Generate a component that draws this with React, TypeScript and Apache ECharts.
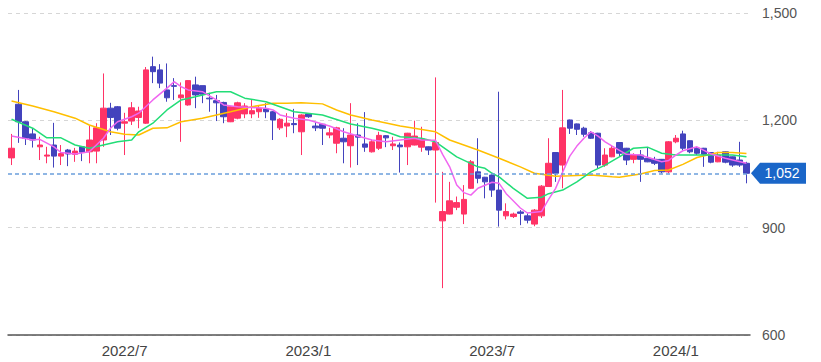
import React, { useEffect, useRef } from "react";
import * as echarts from "echarts";

// Weekly candles (Monday of each week)
const dates = [
  "2022/03/14","2022/03/21","2022/03/28","2022/04/04","2022/04/11","2022/04/18","2022/04/25","2022/05/02","2022/05/09","2022/05/16",
  "2022/05/23","2022/05/30","2022/06/06","2022/06/13","2022/06/20","2022/06/27","2022/07/04","2022/07/11","2022/07/18","2022/07/25",
  "2022/08/01","2022/08/08","2022/08/15","2022/08/22","2022/08/29","2022/09/05","2022/09/12","2022/09/19","2022/09/26","2022/10/03",
  "2022/10/10","2022/10/17","2022/10/24","2022/10/31","2022/11/07","2022/11/14","2022/11/21","2022/11/28","2022/12/05","2022/12/12",
  "2022/12/19","2022/12/26","2023/01/02","2023/01/09","2023/01/16","2023/01/23","2023/01/30","2023/02/06","2023/02/13","2023/02/20",
  "2023/02/27","2023/03/06","2023/03/13","2023/03/20","2023/03/27","2023/04/03","2023/04/10","2023/04/17","2023/04/24","2023/05/01",
  "2023/05/08","2023/05/15","2023/05/22","2023/05/29","2023/06/05","2023/06/12","2023/06/19","2023/06/26","2023/07/03","2023/07/10",
  "2023/07/17","2023/07/24","2023/07/31","2023/08/07","2023/08/14","2023/08/21","2023/08/28","2023/09/04","2023/09/11","2023/09/18",
  "2023/09/25","2023/10/02","2023/10/09","2023/10/16","2023/10/23","2023/10/30","2023/11/06","2023/11/13","2023/11/20","2023/11/27",
  "2023/12/04","2023/12/11","2023/12/18","2023/12/25","2024/01/01","2024/01/08","2024/01/15","2024/01/22","2024/01/29","2024/02/05",
  "2024/02/12","2024/02/19","2024/02/26","2024/03/04","2024/03/11",
];

const opens = [
  1095,1245,1196,1162,1126,1100,1131,1100,1117,1105, 1126,1112,1114,1145,1234,1238,1192,1198,1208,1192,
  1350,1341,1285,1297,1263,1243,1299,1297,1262,1255, 1250,1196,1206,1218,1218,1224,1232,1224,1179,1184,
  1191,1168,1218,1184,1189,1159,1136,1150,1129,1159, 1134,1112,1122,1157,1129,1131,1126,1131,1125,1126,
  1117,919,938,957,938,1010,1056,1041,1047,1005, 933,931,944,933,910,933,1015,1110,1075,1201,
  1190,1178,1165,1164,1075,1098,1138,1122,1091,1103, 1094,1091,1091,1056,1140,1162,1143,1122,1122,1110,
  1084,1112,1098,1089,1080,
];
const closes = [
  1122,1196,1150,1145,1131,1103,1100,1107,1106,1114, 1111,1145,1179,1234,1208,1178,1196,1235,1226,1341,
  1336,1304,1263,1295,1271,1311,1271,1273,1260,1249, 1210,1238,1249,1240,1227,1234,1224,1201,1203,1192,
  1188,1215,1210,1179,1178,1165,1179,1140,1159,1153, 1125,1140,1158,1151,1134,1126,1164,1156,1148,1117,
  1138,945,975,970,979,1084,1038,1028,1005,949, 945,938,940,921,949,1016,1080,1052,1179,1178,
  1175,1161,1150,1075,1103,1122,1108,1089,1103,1091, 1084,1080,1056,1140,1150,1122,1112,1108,1105,1083,
  1103,1083,1075,1075,1052,
];
const lows = [
  1075,1137,1131,1124,1089,1080,1068,1075,1072,1084, 1086,1080,1080,1126,1159,1172,1103,1187,1178,1190,
  1304,1290,1252,1257,1140,1241,1234,1248,1224,1198, 1192,1195,1203,1206,1206,1207,1206,1145,1173,1153,
  1164,1103,1207,1170,1131,1150,1108,1080,1068,1075, 1112,1110,1117,1125,1117,1054,1075,1130,1112,1103,
  970,731,937,949,910,1008,1024,982,986,903, 923,927,907,912,904,927,1014,1028,1010,1162,
  1159,1154,1148,1066,1070,1097,1098,1075,1080,1028, 1083,1075,1052,1052,1136,1117,1108,1103,1070,1080,
  1083,1080,1070,1070,1024,
];
const highs = [
  1162,1285,1198,1178,1154,1126,1193,1131,1120,1123, 1127,1185,1192,1331,1249,1240,1221,1251,1238,1349,
  1378,1357,1359,1318,1306,1312,1322,1297,1277,1271, 1252,1240,1252,1248,1257,1240,1248,1226,1206,1220,
  1232,1217,1220,1195,1190,1179,1182,1178,1248,1192, 1223,1146,1168,1159,1154,1138,1165,1199,1182,1127,
  1320,1056,1028,987,1019,1089,1150,1042,1052,1280, 968,942,949,940,952,1019,1150,1110,1285,1202,
  1191,1182,1170,1165,1122,1131,1139,1123,1108,1117, 1123,1098,1092,1142,1159,1171,1144,1126,1123,1110,
  1112,1113,1099,1140,1084,
];

// Moving averages: [week index, price]
const maShort = [
  [0,1156],[3,1145],[4,1147],[6,1126],[7,1110],[9,1106],[11,1112],[13,1150],[14,1178],[15,1196],
  [17,1210],[18,1220],[20,1257],[22,1290],[23,1308],[24,1294],[25,1285],[27,1280],[29,1257],[30,1243],
  [32,1238],[34,1236],[36,1234],[37,1229],[38,1215],[40,1206],[42,1201],[45,1184],[47,1168],[49,1156],
  [51,1145],[53,1140],[55,1145],[57,1150],[58,1145],[60,1144],[61,1105],[62,1070],[63,1019],[64,998],
  [65,991],[66,1010],[68,1027],[69,1024],[70,995],[72,955],[73,941],[75,945],[76,979],[77,1010],
  [78,1056],[79,1100],[80,1128],[81,1150],[82,1168],[83,1156],[84,1140],[85,1128],[87,1105],[89,1103],
  [90,1097],[92,1084],[93,1088],[94,1103],[95,1115],[97,1126],[99,1106],[101,1094],[104,1080],
];
const maMid = [
  [0,1203],[3,1178],[5,1151],[7,1151],[9,1131],[11,1122],[13,1131],[15,1140],[17,1145],[18,1168],
  [20,1192],[22,1229],[24,1257],[26,1266],[29,1280],[31,1280],[33,1262],[36,1252],[38,1238],[40,1224],
  [44,1215],[48,1190],[51,1178],[53,1168],[55,1154],[58,1150],[60,1140],[63,1098],[66,1070],[67,1066],
  [68,1052],[69,1042],[71,1010],[73,982],[75,985],[76,995],[78,1005],[80,1028],[82,1056],[84,1075],
  [86,1098],[88,1122],[90,1125],[92,1108],[94,1103],[98,1103],[102,1103],[104,1098],
];
const maLong = [
  [0,1254],[3,1240],[6,1224],[9,1206],[11,1187],[14,1168],[16,1161],[18,1159],[20,1178],[22,1179],
  [24,1196],[27,1206],[29,1215],[31,1224],[34,1238],[37,1248],[39,1248],[41,1249],[44,1246],[46,1229],
  [48,1215],[51,1201],[55,1184],[57,1178],[60,1168],[62,1145],[64,1131],[66,1117],[69,1094],[72,1070],
  [74,1052],[77,1044],[79,1045],[82,1047],[85,1042],[86,1041],[89,1050],[91,1060],[93,1061],[95,1077],
  [97,1096],[100,1110],[102,1110],[104,1107],
];

const lastPrice = 1052;
const yMin = 600;
const yMax = 1500;
const yStep = 300;

const UP = "#ff3366";
const DOWN = "#4343bd";
const FONT = "'Liberation Sans', Arial, sans-serif";

export default function App() {
  const ref = useRef<HTMLDivElement>(null);

  useEffect(() => {
    if (!ref.current) return;
    const chart = echarts.init(ref.current, undefined, { renderer: "svg" });
    const candles = dates.map((_, i) => [opens[i], closes[i], lows[i], highs[i]]);

    const isHalfStart = (v: string) => {
      const [, m, d] = v.split("/").map(Number);
      return (m === 1 || m === 7) && d <= 7;
    };

    chart.setOption({
      animation: false,
      textStyle: { fontFamily: FONT },
      grid: { left: 8, right: 71, top: 13, bottom: 27 },
      xAxis: {
        type: "category",
        data: dates,
        boundaryGap: true,
        axisLine: { lineStyle: { color: "#555", width: 1.5 } },
        axisTick: { show: false },
        splitLine: { show: false },
        axisLabel: {
          interval: (_i: number, v: string) => isHalfStart(v),
          formatter: (v: string) => {
            const [y, m] = v.split("/").map(Number);
            return `${y}/${m}`;
          },
          color: "#444",
          fontSize: 15,
          margin: 8,
          fontFamily: FONT,
        },
      },
      yAxis: {
        type: "value",
        position: "right",
        min: yMin,
        max: yMax,
        interval: yStep,
        axisLine: { show: false },
        axisTick: { show: false },
        axisLabel: {
          color: "#555",
          fontSize: 14,
          margin: 12,
          fontFamily: FONT,
          formatter: (v: number) => v.toLocaleString("en-US"),
        },
        splitLine: { lineStyle: { type: [4, 4], color: "#d6d6d6", width: 1 } },
      },
      series: [
        {
          type: "candlestick",
          data: candles,
          barWidth: 6,
          itemStyle: {
            color: UP,
            color0: DOWN,
            borderColor: UP,
            borderColor0: DOWN,
            borderWidth: 1,
          },
          markLine: {
            symbol: "none",
            silent: true,
            label: { show: false },
            lineStyle: { type: [4, 3], color: "#6b9fdc", width: 1.5 },
            data: [{ yAxis: lastPrice }],
          },
        },
        {
          type: "line",
          data: maLong,
          showSymbol: false,
          lineStyle: { color: "#ffbf00", width: 1.5 },
          itemStyle: { color: "#ffbf00" },
        },
        {
          type: "line",
          data: maMid,
          showSymbol: false,
          lineStyle: { color: "#22dd77", width: 1.5 },
          itemStyle: { color: "#22dd77" },
        },
        {
          type: "line",
          data: maShort,
          showSymbol: false,
          lineStyle: { color: "#f066f0", width: 1.5 },
          itemStyle: { color: "#f066f0" },
        },
      ],
    });

    const y = chart.convertToPixel({ yAxisIndex: 0 }, lastPrice) as number;
    chart.setOption({
      graphic: [
        {
          type: "polygon",
          z: 100,
          shape: {
            points: [
              [751, y],
              [760, y - 10.5],
              [806, y - 10.5],
              [806, y + 10.5],
              [760, y + 10.5],
            ],
          },
          style: { fill: "#1a66c8" },
        },
        {
          type: "text",
          z: 101,
          x: 782,
          y: y,
          style: {
            text: lastPrice.toLocaleString("en-US"),
            fill: "#fff",
            font: `14px ${FONT}`,
            align: "center",
            verticalAlign: "middle",
            textAlign: "center",
            textVerticalAlign: "middle",
          },
        },
      ],
    });

    return () => chart.dispose();
  }, []);

  return (
    <div
      ref={ref}
      style={{ position: "fixed", left: 0, top: 0, width: 821, height: 362, background: "#fff" }}
    />
  );
}
